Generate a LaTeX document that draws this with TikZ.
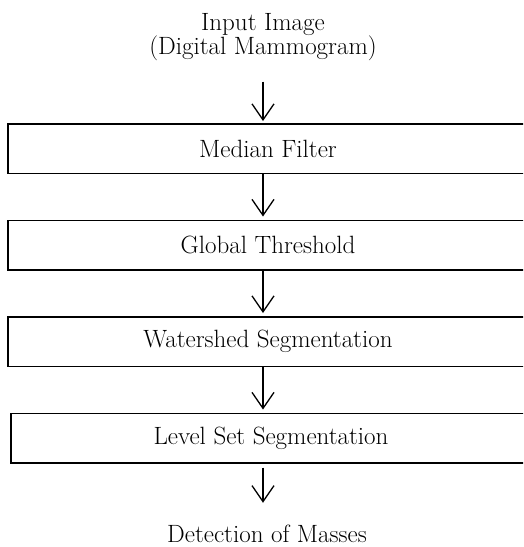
\documentclass[tikz,border=0pt]{standalone}
\usepackage{tikz}
\usetikzlibrary{arrows.meta, positioning}
\tikzstyle{stage} = [rectangle, minimum width=520pt, minimum height=49.5pt, text centered, draw=black, line width=1.5pt, font=\fontsize{25}{26}\selectfont]
\tikzstyle{io} = [align=center, font=\fontsize{25}{24}\selectfont]
\tikzstyle{arrow} = [line width=1.3pt, -{Straight Barb[length=16pt, width=22pt, line width=1.3pt]}]

\begin{document}
\begin{tikzpicture}
        \path[use as bounding box, clip] (0,0) rectangle (523pt,-547pt);
        \node (in) [io] at (263pt,-37.5pt) {Input Image\\(Digital Mammogram)};
        \node (med) [stage] at (268pt,-148.5pt) {Median Filter};
        \node (glob) [stage, below=45.5pt of med] {Global Threshold};
        \node (wat) [stage, below=45.5pt of glob] {Watershed Segmentation};
        \node (lev) [stage, below=45.5pt of wat, xshift=3pt] {Level Set Segmentation};
        \node (out) [io, anchor=base, inner sep=1pt] at (267pt,-542.5pt) {Detection of Masses};

        \draw [arrow, shorten <=17pt, shorten >=2pt] (in.south) -- (med.north -| in);
        \draw [arrow, shorten >=3pt] (med.south -| in) -- (glob.north -| in);
        \draw [arrow, shorten >=3pt] (glob.south -| in) -- (wat.north -| in);
        \draw [arrow, shorten >=3pt] (wat.south -| in) -- (lev.north -| in);
        \draw [arrow, shorten <=4pt, shorten >=21pt] (lev.south -| in) -- (out.north -| in);
    \end{tikzpicture}
\end{document}
